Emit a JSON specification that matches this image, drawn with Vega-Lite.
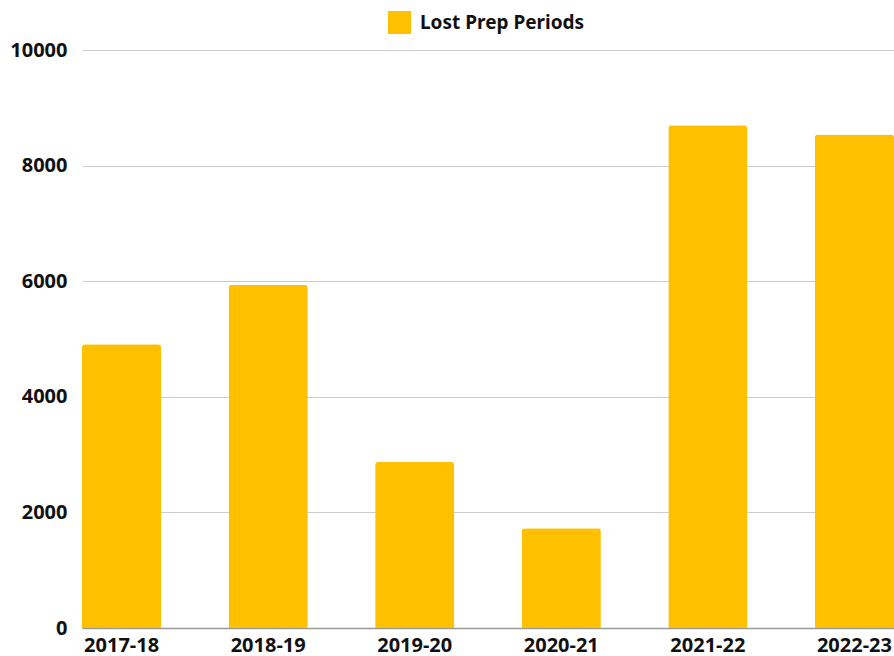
{
  "$schema": "https://vega.github.io/schema/vega-lite/v6.json",
  "width": 812,
  "height": 578,
  "autosize": {"type": "none"},
  "padding": {"left": 82, "top": 50, "right": 0, "bottom": 28},
  "background": "white",
  "config": {
    "view": {"stroke": null},
    "font": "Noto Sans",
    "text": {"font": "Noto Sans"}
  },
  "data": {
    "values": [
      {"year": "2017-18", "series": "Lost Prep Periods", "value": 4910},
      {"year": "2018-19", "series": "Lost Prep Periods", "value": 5940},
      {"year": "2019-20", "series": "Lost Prep Periods", "value": 2870},
      {"year": "2020-21", "series": "Lost Prep Periods", "value": 1725},
      {"year": "2021-22", "series": "Lost Prep Periods", "value": 8700},
      {"year": "2022-23", "series": "Lost Prep Periods", "value": 8540}
    ]
  },
  "mark": {"type": "bar", "cornerRadiusTopLeft": 3, "cornerRadiusTopRight": 3},
  "encoding": {
    "x": {
      "field": "year",
      "type": "nominal",
      "sort": null,
      "scale": {"paddingInner": 0.46, "paddingOuter": 0},
      "axis": {
        "title": null,
        "labelAngle": 0,
        "labelFont": "Noto Sans",
        "labelFontWeight": "bold",
        "labelFontSize": 20,
        "labelColor": "#111111",
        "labelPadding": 7,
        "labelLimit": 0,
        "ticks": false,
        "domainColor": "#999999",
        "domainWidth": 1.5
      }
    },
    "y": {
      "field": "value",
      "type": "quantitative",
      "scale": {"domain": [0, 10000], "nice": false},
      "axis": {
        "title": null,
        "values": [0, 2000, 4000, 6000, 8000, 10000],
        "format": "d",
        "labelFont": "Noto Sans",
        "labelFontWeight": "bold",
        "labelFontSize": 20,
        "labelColor": "#111111",
        "labelPadding": 15,
        "ticks": false,
        "domain": false,
        "gridColor": "#cccccc",
        "gridWidth": 1
      }
    },
    "color": {
      "field": "series",
      "type": "nominal",
      "scale": {"range": ["#FFC000"]},
      "legend": {
        "title": null,
        "orient": "none",
        "legendX": 306,
        "legendY": -39,
        "symbolType": "square",
        "symbolSize": 529,
        "symbolStrokeWidth": 0,
        "labelFont": "Noto Sans",
        "labelFontWeight": "bold",
        "labelFontSize": 19,
        "labelColor": "#111111",
        "labelOffset": 9,
        "labelLimit": 0
      }
    }
  }
}
